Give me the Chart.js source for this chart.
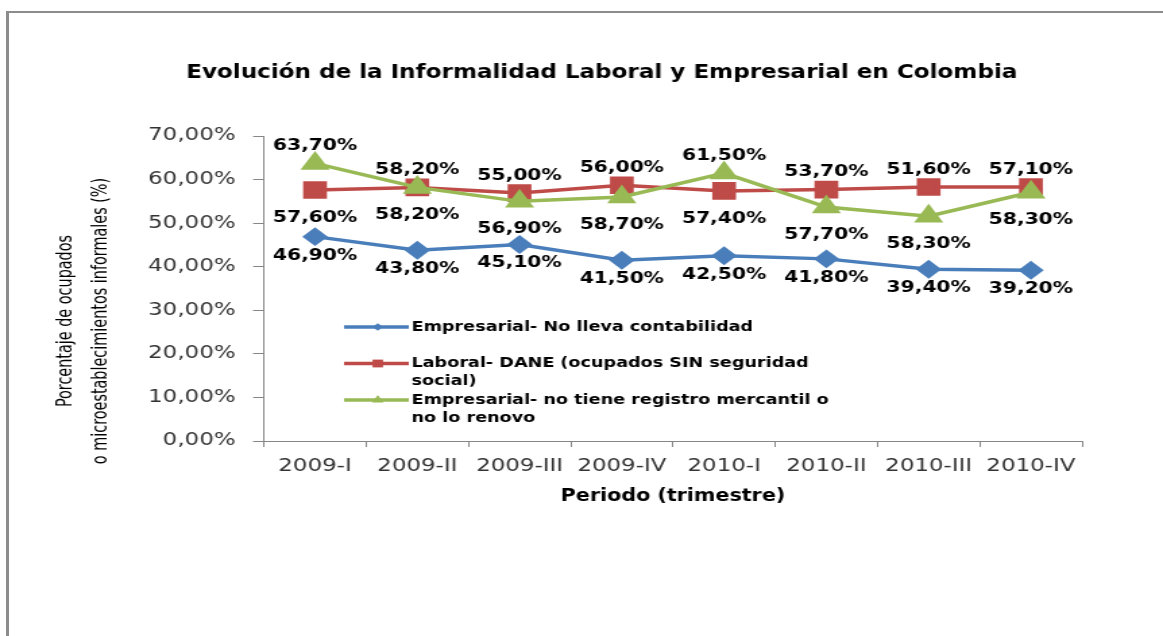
<!DOCTYPE html>
<html lang="es">
<head>
<meta charset="utf-8">
<title>Informalidad Laboral y Empresarial</title>
<script src="https://cdn.jsdelivr.net/npm/chart.js@4/dist/chart.umd.min.js"></script>
<style>
  html, body { margin: 0; padding: 0; background: #fff; overflow: hidden; }
  #marco {
    position: absolute; left: 6px; top: 11px; right: -20px; bottom: -20px;
    border-top: 2px solid #8c8c8c; border-left: 3px solid #8c8c8c;
  }
  /* el original está estirado horizontalmente, se estira el lienzo igual */
  #grafico { position: absolute; left: 0; top: 0; }
</style>
</head>
<body>
<div id="marco"></div>
<canvas id="grafico" width="862" height="636" style="width:1163px;height:636px"></canvas>
<script>
// Datos
const periodos = ["2009-I", "2009-II", "2009-III", "2009-IV", "2010-I", "2010-II", "2010-III", "2010-IV"];
const noLlevaContabilidad = [46.9, 43.8, 45.1, 41.5, 42.5, 41.8, 39.4, 39.2];
const sinSeguridadSocial = [57.6, 58.2, 56.9, 58.7, 57.4, 57.7, 58.3, 58.3];
const sinRegistroMercantil = [63.7, 58.2, 55.0, 56.0, 61.5, 53.7, 51.6, 57.1];
const tituloEjeY = ["Porcentaje de ocupados", "o microestablecimientos informales (%)"];

const AZUL = "#4a7ebb";
const ROJO = "#be4b48";
const VERDE = "#98b954";

function porcentaje(v) {
  return v.toFixed(2).replace(".", ",") + "%";
}

// Etiquetas de datos: las series de un mismo grupo se separan
// (una encima del grupo, otra debajo) para que no se monten
const etiquetasDatos = {
  id: "etiquetasDatos",
  afterDatasetsDraw(chart) {
    const ctx = chart.ctx;
    const sets = chart.data.datasets;
    ctx.save();
    ctx.font = "bold 15px 'DejaVu Sans'";
    ctx.fillStyle = "#000";
    ctx.textAlign = "center";
    ctx.textBaseline = "middle";
    sets.forEach((ds, i) => {
      const meta = chart.getDatasetMeta(i);
      meta.data.forEach((pt, j) => {
        const ys = sets
          .map((o, k) => (o.grupo === ds.grupo ? chart.getDatasetMeta(k).data[j].y : null))
          .filter((v) => v !== null);
        const y = ds.etiqueta === "arriba"
          ? Math.min(...ys) - ds.despl
          : Math.max(...ys) + ds.despl;
        ctx.fillText(porcentaje(ds.data[j]), pt.x, y);
      });
    });
    ctx.restore();
  },
};

// Leyenda dentro del área del gráfico, con texto partido en líneas
const leyenda = {
  id: "leyenda",
  afterDraw(chart) {
    const ctx = chart.ctx;
    const x0 = 255, xTexto = 305, y0 = 327, paso = 36.5, alto = 18, anchoMax = 318;
    ctx.save();
    ctx.font = "bold 14.5px 'DejaVu Sans Condensed'";
    ctx.textBaseline = "middle";
    chart.data.datasets.forEach((ds, i) => {
      const y = y0 + i * paso;
      ctx.strokeStyle = ds.borderColor;
      ctx.lineWidth = 3.5;
      ctx.beginPath();
      ctx.moveTo(x0, y);
      ctx.lineTo(xTexto - 2, y);
      ctx.stroke();
      ctx.fillStyle = ds.backgroundColor;
      Chart.helpers.drawPoint(ctx, { pointStyle: ds.pointStyle, radius: ds.pointRadius * 0.55, borderWidth: 0 }, (x0 + xTexto) / 2, y);
      ctx.fillStyle = "#000";
      const palabras = ds.label.split(" ");
      let linea = "", n = 0;
      palabras.forEach((p) => {
        const prueba = linea ? linea + " " + p : p;
        if (ctx.measureText(prueba).width > anchoMax && linea) {
          ctx.fillText(linea, xTexto, y + n * alto);
          n++;
          linea = p;
        } else {
          linea = prueba;
        }
      });
      ctx.fillText(linea, xTexto, y + n * alto);
    });
    ctx.restore();
  },
};

// Título del eje Y en dos líneas
const ejeY = {
  id: "ejeY",
  afterDraw(chart) {
    const ctx = chart.ctx;
    ctx.save();
    ctx.translate(0, 321);
    ctx.rotate(-Math.PI / 2);
    ctx.font = "16px 'DejaVu Sans Condensed'";
    ctx.fillStyle = "#000";
    ctx.textAlign = "center";
    ctx.textBaseline = "middle";
    ctx.fillText(tituloEjeY[0], 0, 48.5);
    ctx.fillText(tituloEjeY[1], 0, 75);
    ctx.restore();
  },
};

new Chart(document.getElementById("grafico"), {
  type: "line",
  data: {
    labels: periodos,
    datasets: [
      {
        label: "Empresarial- No lleva contabilidad",
        data: noLlevaContabilidad,
        borderColor: AZUL,
        backgroundColor: AZUL,
        borderWidth: 3.5,
        pointStyle: "rectRot",
        pointRadius: 7,
        order: 2,
        grupo: "bajo",
        etiqueta: "abajo",
        despl: 19,
      },
      {
        label: "Laboral- DANE (ocupados SIN seguridad social)",
        data: sinSeguridadSocial,
        borderColor: ROJO,
        backgroundColor: ROJO,
        borderWidth: 3.5,
        pointStyle: "rect",
        pointRadius: 10,
        order: 1,
        grupo: "alto",
        etiqueta: "abajo",
        despl: 28,
      },
      {
        label: "Empresarial- no tiene registro mercantil o no lo renovo",
        data: sinRegistroMercantil,
        borderColor: VERDE,
        backgroundColor: VERDE,
        borderWidth: 3.5,
        pointStyle: "triangle",
        pointRadius: 9,
        order: 0,
        grupo: "alto",
        etiqueta: "arriba",
        despl: 17,
      },
    ],
  },
  options: {
    responsive: false,
    devicePixelRatio: 1,
    animation: false,
    elements: { line: { tension: 0 }, point: { borderWidth: 0 } },
    layout: { padding: { left: 90, right: 60, top: 0, bottom: 129 } },
    plugins: {
      legend: { display: false },
      tooltip: { enabled: false },
      title: {
        display: true,
        text: "Evolución de la Informalidad Laboral y Empresarial en Colombia",
        color: "#000",
        font: { family: "'DejaVu Sans Condensed'", size: 19, weight: "bold" },
        padding: { top: 62, bottom: 51.2 },
      },
    },
    scales: {
      x: {
        offset: true,
        afterFit(scale) { scale.height = 66; },
        grid: { display: true, offset: true, drawOnChartArea: false, tickLength: 6, color: "#868686" },
        border: { color: "#868686", width: 1 },
        ticks: { color: "#333", padding: 9, maxRotation: 0, font: { family: "'DejaVu Sans'", size: 17 } },
        title: {
          display: true,
          text: "Periodo (trimestre)",
          color: "#000",
          padding: { top: 0, bottom: 0 },
          font: { family: "'DejaVu Sans Condensed'", size: 17, weight: "bold" },
        },
      },
      y: {
        min: 0,
        max: 70,
        afterFit(scale) { scale.width = 105.6; },
        grid: { display: true, drawOnChartArea: false, tickLength: 8, color: "#868686" },
        border: { color: "#868686", width: 1 },
        ticks: {
          stepSize: 10,
          padding: 13,
          color: "#333",
          font: { family: "'DejaVu Sans'", size: 17 },
          callback: (v) => porcentaje(v),
        },
      },
    },
  },
  plugins: [etiquetasDatos, leyenda, ejeY],
});
</script>
</body>
</html>
